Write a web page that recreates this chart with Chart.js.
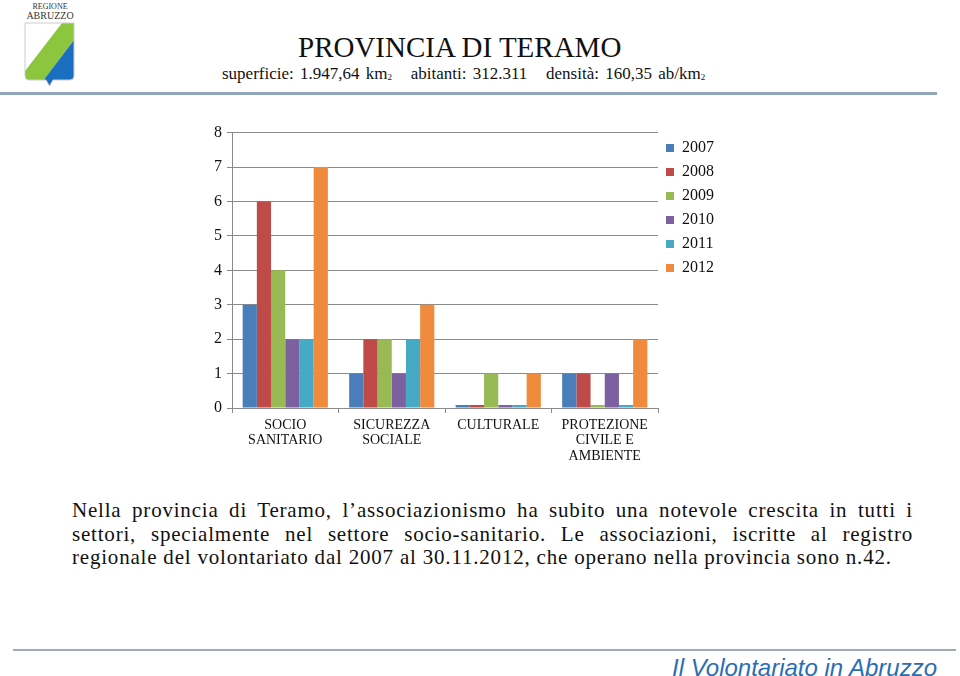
<!DOCTYPE html>
<html>
<head>
<meta charset="utf-8">
<script src="https://cdn.jsdelivr.net/npm/chart.js@4.4.0/dist/chart.umd.min.js"></script>
<style>
  body { margin: 0; background: #fff; width: 960px; height: 676px; position: relative; overflow: hidden; }
  #logo { position: absolute; left: 18px; top: 0; }
  #title { position: absolute; left: 298px; top: 31px; font: 29px "Liberation Serif", serif; color: #111; }
  #sub { position: absolute; left: 222px; top: 64px; font: 17px "Liberation Serif", serif; color: #111; word-spacing: 2px; }
  #sub sub { font-size: 9px; vertical-align: -1px; }
  .rule { position: absolute; background: #91a6b8; }
  #wrap { position: absolute; left: 180px; top: 118px; width: 548px; height: 360px; }
  #txt { position: absolute; left: 72px; top: 499px; width: 841px; font: 21px "Liberation Serif", serif; letter-spacing: 0.8px; line-height: 23.5px; color: #111; }
  #txt div { text-align: justify; text-align-last: justify; white-space: nowrap; }
  #txt div.last { text-align-last: left; }
  #foot { position: absolute; left: 672px; top: 654px; font: italic 24px "Liberation Sans", sans-serif; color: #2a6db3; }
</style>
</head>
<body>
<svg id="logo" width="64" height="90" viewBox="0 0 64 90">
  <text x="32" y="9" text-anchor="middle" font-family="Liberation Serif" font-size="8" fill="#333">REGIONE</text>
  <text x="32" y="19" text-anchor="middle" font-family="Liberation Serif" font-size="10" fill="#333">ABRUZZO</text>
  <defs>
    <clipPath id="sh"><path d="M7 23 H56 V76 Q56 80 52 80 H35 L31.5 86 L28 80 H11 Q7 80 7 76 Z"/></clipPath>
  </defs>
  <g clip-path="url(#sh)">
    <rect x="0" y="20" width="64" height="70" fill="#fff"/>
    <polygon points="44,23 56,23 56,40 18,90 0,90 0,80" fill="#8cc63f"/>
    <polygon points="56,40 56,90 18,90" fill="#1a6fc0"/>
  </g>
  <path d="M7 23 H56 V76 Q56 80 52 80 H35 L31.5 86 L28 80 H11 Q7 80 7 76 Z" fill="none" stroke="#ccc" stroke-width="1"/>
</svg>
<div id="title">PROVINCIA DI TERAMO</div>
<div id="sub">superficie: 1.947,64 km<sub>2</sub> &nbsp;&nbsp;abitanti: 312.311 &nbsp;&nbsp;densità: 160,35 ab/km<sub>2</sub></div>
<div class="rule" style="left:0;top:92px;width:937px;height:3px;"></div>
<div id="wrap"><canvas id="myChart"></canvas></div>
<div id="txt">
  <div>Nella provincia di Teramo, l’associazionismo ha subito una notevole crescita in tutti i</div>
  <div>settori, specialmente nel settore socio-sanitario. Le associazioni, iscritte al registro</div>
  <div class="last">regionale del volontariato dal 2007 al 30.11.2012, che operano nella provincia sono n.42.</div>
</div>
<div class="rule" style="left:13px;top:649px;width:943px;height:2px;background:#a0abb4;"></div>
<div id="foot">Il Volontariato in Abruzzo</div>
<script>
// categories and values per year
const categories = [['SOCIO', 'SANITARIO'], ['SICUREZZA', 'SOCIALE'], ['CULTURALE'], ['PROTEZIONE', 'CIVILE E', 'AMBIENTE']];
const years = ['2007', '2008', '2009', '2010', '2011', '2012'];
const v2007 = [3, 1, 0, 1];
const v2008 = [6, 2, 0, 1];
const v2009 = [4, 2, 1, 0];
const v2010 = [2, 1, 0, 1];
const v2011 = [2, 2, 0, 0];
const v2012 = [7, 3, 1, 2];
const colors = ['#4a7ebb', '#be4b48', '#98b954', '#7d60a0', '#46aac5', '#f08a3c'];

const series = [v2007, v2008, v2009, v2010, v2011, v2012];

const ctx = document.getElementById('myChart').getContext('2d');
new Chart(ctx, {
    type: 'bar',
    data: {
        labels: categories,
        datasets: series.map((vals, i) => ({
            label: years[i],
            data: vals,
            backgroundColor: colors[i],
            borderWidth: 0,
            minBarLength: 3
        }))
    },
    options: {
        responsive: true,
        maintainAspectRatio: false,
        animation: false,
        layout: { padding: { top: 14, right: 4 } },
        datasets: { bar: { barPercentage: 1, categoryPercentage: 0.8 } },
        plugins: {
            tooltip: { enabled: false },
            legend: {
                position: 'right',
                align: 'start',
                labels: {
                    boxWidth: 8,
                    boxHeight: 8,
                    padding: 8,
                    color: '#111',
                    font: { family: 'Liberation Serif', size: 16 }
                }
            }
        },
        scales: {
            x: {
                grid: { display: true, drawOnChartArea: false, tickLength: 5, color: '#8a8a8a' },
                border: { color: '#8a8a8a' },
                ticks: { color: '#111', padding: 4, maxRotation: 0, font: { family: 'Liberation Serif', size: 14, lineHeight: 1.13 } },
                afterFit: s => { s.height = 70; }
            },
            y: {
                min: 0,
                max: 8,
                ticks: { stepSize: 1, color: '#111', padding: 5, font: { family: 'Liberation Serif', size: 16 } },
                grid: { color: '#8a8a8a', tickLength: 5 },
                border: { color: '#8a8a8a' },
                afterFit: s => { s.width = 52; }
            }
        }
    }
});
</script>
</body>
</html>
